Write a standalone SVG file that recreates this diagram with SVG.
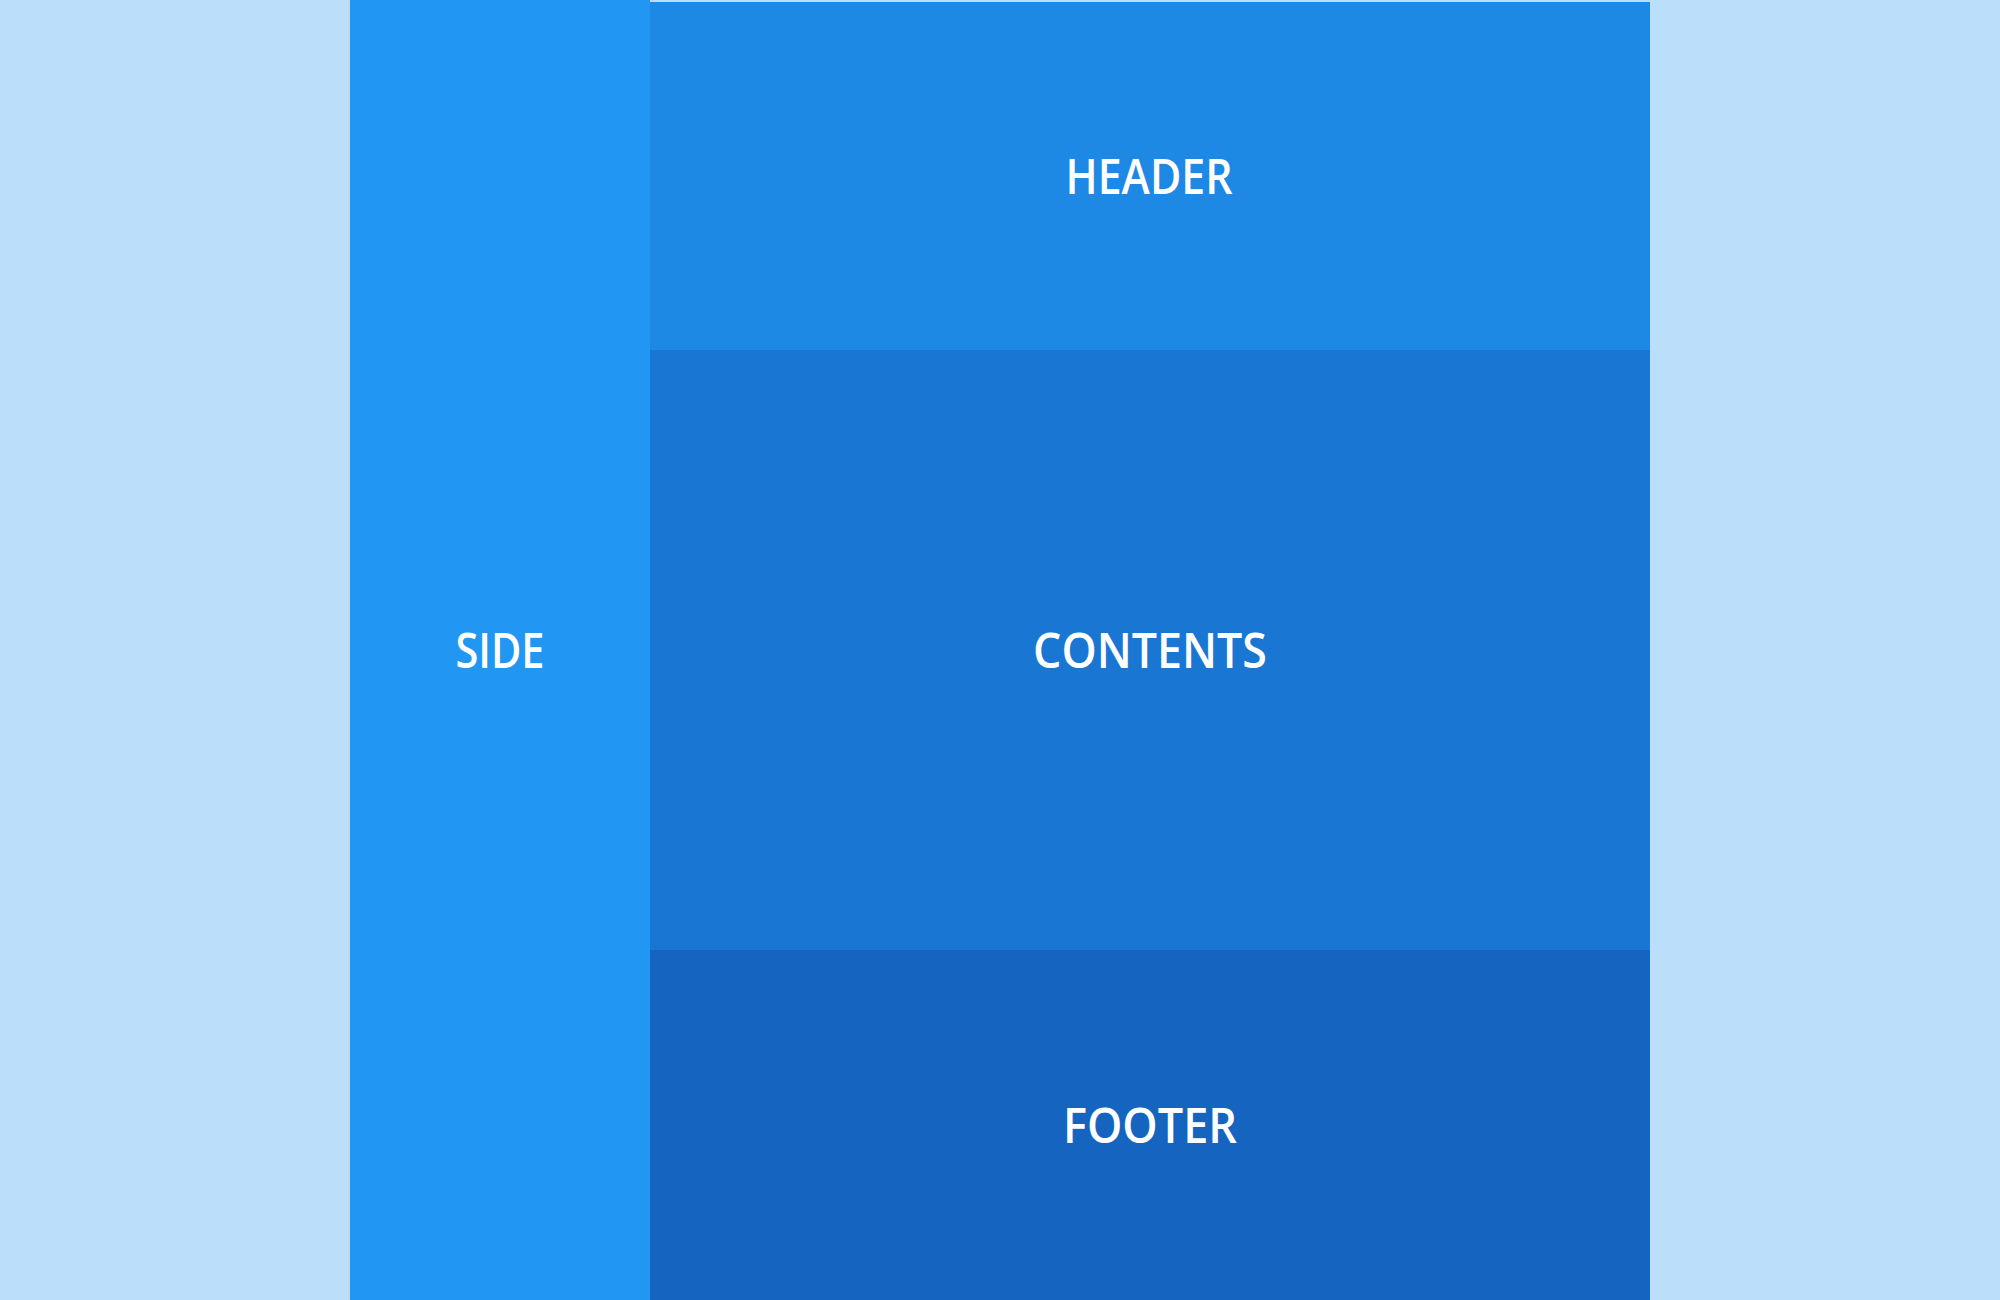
<svg xmlns="http://www.w3.org/2000/svg" width="2000" height="1300" viewBox="0 0 2000 1300">
  <style>
    .label { font-family: "Open Sans", "Noto Sans", sans-serif; font-size: 48px; font-weight: 600; fill: #ffffff; text-anchor: middle; dominant-baseline: central; }
  </style>
  <!-- page background -->
  <rect x="0" y="0" width="2000" height="1300" fill="#BBDEFB"/>
  <g id="side">
    <rect x="350" y="0" width="300" height="1300" fill="#2196F3"/>
    <text class="label" x="500" y="649" textLength="89" lengthAdjust="spacingAndGlyphs">SIDE</text>
  </g>
  <g id="header">
    <rect x="650" y="2" width="1000" height="348" fill="#1E88E5"/>
    <text class="label" x="1149" y="175" textLength="167" lengthAdjust="spacingAndGlyphs">HEADER</text>
  </g>
  <g id="contents">
    <rect x="650" y="350" width="1000" height="600" fill="#1976D2"/>
    <text class="label" x="1150" y="649" textLength="234" lengthAdjust="spacingAndGlyphs">CONTENTS</text>
  </g>
  <g id="footer">
    <rect x="650" y="950" width="1000" height="350" fill="#1565C0"/>
    <text class="label" x="1150" y="1124" textLength="174" lengthAdjust="spacingAndGlyphs">FOOTER</text>
  </g>
  <g id="connectors"/>
</svg>
